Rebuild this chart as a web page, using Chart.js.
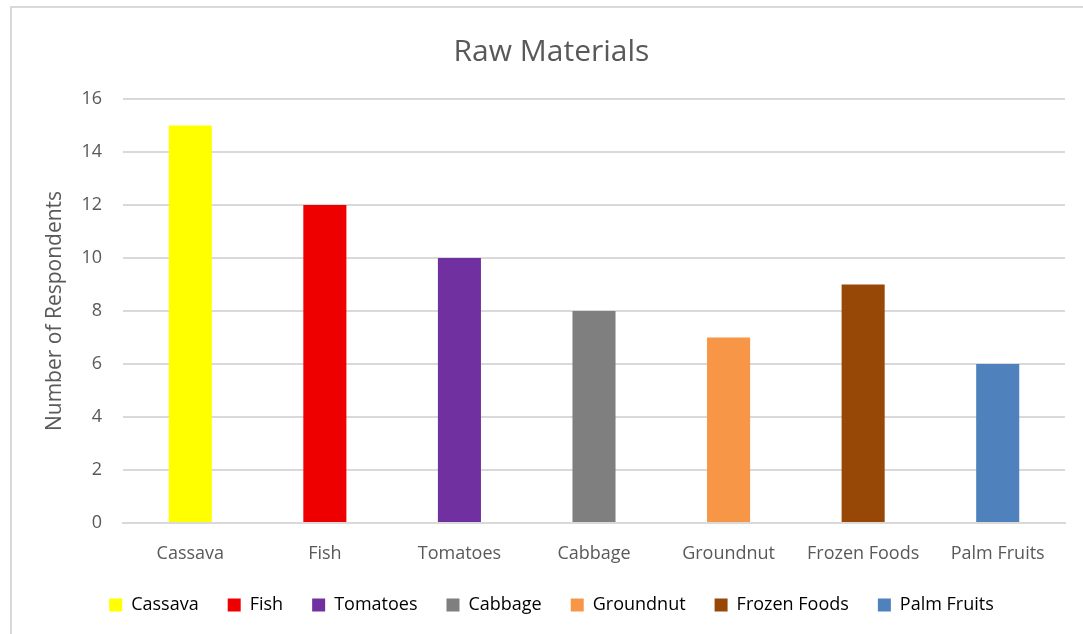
<!DOCTYPE html>
<html>
<head>
<meta charset="utf-8">
<script src="https://cdn.jsdelivr.net/npm/chart.js@4"></script>
<style>
  html, body { margin: 0; padding: 0; background: #fff; }
  #wrap { position: relative; width: 1083px; height: 634px; overflow: hidden; }
  #frame { position: absolute; left: 10px; top: 6px; width: 1100px; height: 700px;
           border-left: 2px solid #d9d9d9; border-top: 2px solid #d9d9d9; }
  #chart { position: absolute; left: 0; top: 0; }
</style>
</head>
<body>
<div id="wrap">
  <div id="frame"></div>
  <canvas id="chart" width="1083" height="634"></canvas>
</div>
<script>
// data
const categories = ['Cassava', 'Fish', 'Tomatoes', 'Cabbage', 'Groundnut', 'Frozen Foods', 'Palm Fruits'];
const respondents = [15, 12, 10, 8, 7, 9, 6];
const barColors = ['#ffff00', '#ee0000', '#7030a0', '#7f7f7f', '#f79646', '#974706', '#4f81bd'];

const textColor = '#595959';
const fontName = "'Open Sans', sans-serif";

const ctx = document.querySelector('#chart').getContext('2d');

new Chart(ctx, {
    type: 'bar',
    data: {
        labels: categories,
        datasets: [{
            label: 'Number of Respondents',
            data: respondents,
            backgroundColor: barColors,
            categoryPercentage: 1,
            barPercentage: 0.32
        }]
    },
    options: {
        responsive: false,
        animation: false,
        layout: { padding: { left: 38, right: 18, top: 0, bottom: 10 } },
        plugins: {
            title: {
                display: true,
                text: 'Raw Materials',
                color: textColor,
                font: { family: fontName, size: 30, weight: 'normal' },
                padding: { top: 34, bottom: 29 }
            },
            legend: {
                position: 'bottom',
                labels: {
                    color: textColor,
                    font: { family: fontName, size: 18 },
                    boxWidth: 13,
                    boxHeight: 13,
                    padding: 29,
                    // one legend entry per category
                    generateLabels: (chart) => categories.map((c, i) => ({
                        text: c,
                        fillStyle: barColors[i],
                        strokeStyle: barColors[i],
                        lineWidth: 0,
                        hidden: false,
                        index: i
                    }))
                },
                onClick: () => {}
            },
            tooltip: { enabled: false }
        },
        scales: {
            x: {
                grid: { display: false },
                border: { color: '#d9d9d9', width: 2 },
                ticks: {
                    color: textColor,
                    font: { family: fontName, size: 18 },
                    padding: 12,
                    maxRotation: 0
                },
                afterFit: (scale) => { scale.height = 44; }
            },
            y: {
                min: 0,
                max: 16,
                ticks: {
                    stepSize: 2,
                    color: textColor,
                    font: { family: fontName, size: 18 },
                    padding: 21
                },
                grid: { color: '#d9d9d9', lineWidth: 2, drawTicks: false },
                border: { display: false },
                title: {
                    display: true,
                    text: 'Number of Respondents',
                    color: textColor,
                    font: { family: fontName, size: 21 }
                },
                afterFit: (scale) => { scale.width = 85; }
            }
        }
    }
});
</script>
</body>
</html>
